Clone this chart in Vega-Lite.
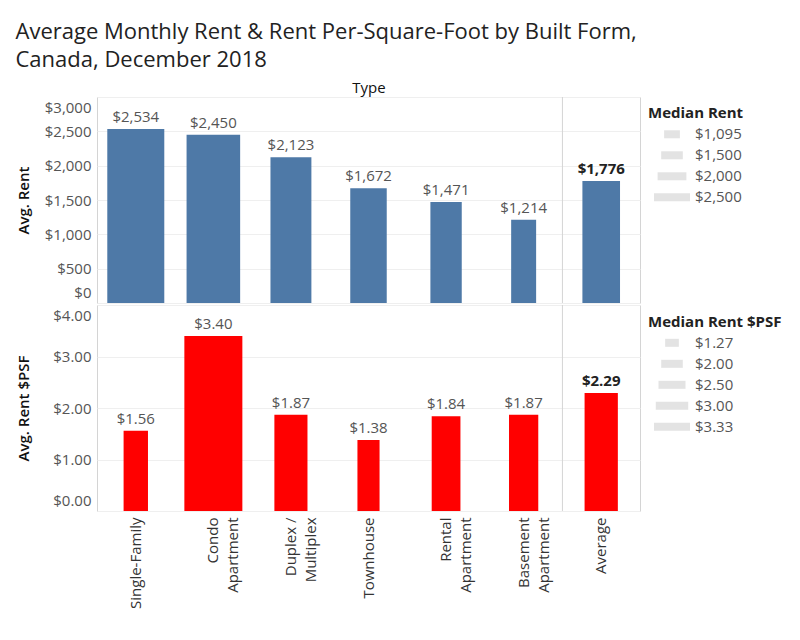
{
  "$schema": "https://vega.github.io/schema/vega-lite/v6.json",
  "padding": {"left": 15, "top": 20, "right": 2, "bottom": 5},
  "title": {
    "text": ["Average Monthly Rent & Rent Per-Square-Foot by Built Form,", "Canada, December 2018"],
    "anchor": "start", "frame": "bounds", "fontSize": 22, "fontWeight": "normal",
    "color": "#222", "lineHeight": 28, "offset": 8, "font": "Open Sans"
  },
  "datasets": {
    "main": [
      {"type": "Single-Family", "avg_rent": 2534, "median_rent": 2500, "avg_psf": 1.56, "median_psf": 1.40},
      {"type": "Condo Apartment", "avg_rent": 2450, "median_rent": 2350, "avg_psf": 3.40, "median_psf": 3.33},
      {"type": "Duplex / Multiplex", "avg_rent": 2123, "median_rent": 1795, "avg_psf": 1.87, "median_psf": 1.90},
      {"type": "Townhouse", "avg_rent": 1672, "median_rent": 1600, "avg_psf": 1.38, "median_psf": 1.27},
      {"type": "Rental Apartment", "avg_rent": 1471, "median_rent": 1375, "avg_psf": 1.84, "median_psf": 1.65},
      {"type": "Basement Apartment", "avg_rent": 1214, "median_rent": 1095, "avg_psf": 1.87, "median_psf": 1.68},
      {"type": "Average", "avg_rent": 1776, "median_rent": 1650, "avg_psf": 2.29, "median_psf": 1.91}
    ],
    "legendRent": [
      {"label": "$1,095", "value": 1095},
      {"label": "$1,500", "value": 1500},
      {"label": "$2,000", "value": 2000},
      {"label": "$2,500", "value": 2500}
    ],
    "legendPsf": [
      {"label": "$1.27", "value": 1.27},
      {"label": "$2.00", "value": 2.00},
      {"label": "$2.50", "value": 2.50},
      {"label": "$3.00", "value": 3.00},
      {"label": "$3.33", "value": 3.33}
    ]
  },
  "columns": 2,
  "spacing": {"row": 0, "column": 7},
  "resolve": {"scale": {"size": "independent", "x": "independent", "y": "independent"}},
  "concat": [
    {
      "width": 543, "height": 206,
      "data": {"name": "main"},
      "encoding": {
        "x": {"field": "type", "type": "nominal", "sort": null,
          "scale": {"paddingInner": 0, "paddingOuter": 0},
          "axis": {"orient": "top", "title": "Type", "labels": false, "ticks": false, "domain": false, "grid": false,
                   "titlePadding": 2, "titleFontWeight": "normal", "titleColor": "#111"}}
      },
      "layer": [
        {
          "mark": {"type": "bar", "color": "#4e79a7"},
          "encoding": {
            "y": {"field": "avg_rent", "type": "quantitative", "scale": {"domain": [0, 3000], "nice": false},
              "axis": {"title": "Avg. Rent", "values": [0, 500, 1000, 1500, 2000, 2500, 3000], "format": "$,d", "labelOverlap": false}},
            "size": {"field": "median_rent", "type": "quantitative", "scale": {"domain": [0, 2500], "range": [0, 57]}, "legend": null}
          }
        },
        {
          "transform": [{"filter": "datum.type != 'Average'"}],
          "mark": {"type": "text", "baseline": "bottom", "dy": -4, "fontSize": 15, "color": "#555"},
          "encoding": {
            "y": {"field": "avg_rent", "type": "quantitative", "scale": {"domain": [0, 3000], "nice": false},
              "axis": {"title": "Avg. Rent", "values": [0, 500, 1000, 1500, 2000, 2500, 3000], "format": "$,d", "labelOverlap": false}},
            "text": {"field": "avg_rent", "type": "quantitative", "format": "$,d"}
          }
        },
        {
          "transform": [{"filter": "datum.type == 'Average'"}],
          "mark": {"type": "text", "baseline": "bottom", "dy": -4, "fontSize": 15, "fontWeight": "bold", "color": "#222"},
          "encoding": {
            "y": {"field": "avg_rent", "type": "quantitative", "scale": {"domain": [0, 3000], "nice": false},
              "axis": {"title": "Avg. Rent", "values": [0, 500, 1000, 1500, 2000, 2500, 3000], "format": "$,d", "labelOverlap": false}},
            "text": {"field": "avg_rent", "type": "quantitative", "format": "$,d"}
          }
        },
        {
          "data": {"values": [{}]},
          "mark": {"type": "rule", "color": "#d4d4d4"},
          "encoding": {"x": {"datum": "Average", "bandPosition": 0}}
        }
      ]
    },
    {
      "width": 140, "height": {"step": 21},
      "view": {"stroke": null},
      "layer": [
        {
          "data": {"values": [{"t": "Median Rent"}]},
          "mark": {"type": "text", "align": "left", "baseline": "middle", "fontSize": 15, "fontWeight": "bold", "color": "#222"},
          "encoding": {
            "x": {"datum": 0, "type": "quantitative", "scale": {"domain": [0, 140], "nice": false, "zero": false}, "axis": null},
            "y": {"datum": "Median Rent", "type": "ordinal",
              "scale": {"domain": ["Median Rent", "$1,095", "$1,500", "$2,000", "$2,500"], "padding": 0.55}, "axis": null},
            "text": {"field": "t"}
          }
        },
        {
          "data": {"name": "legendRent"},
          "mark": {"type": "tick", "orient": "horizontal", "thickness": 8, "color": "#d7d7d7"},
          "encoding": {
            "x": {"datum": 24, "type": "quantitative"},
            "y": {"field": "label", "type": "ordinal"},
            "size": {"field": "value", "type": "quantitative", "scale": {"domain": [0, 2500], "range": [0, 36]}, "legend": null}
          }
        },
        {
          "data": {"name": "legendRent"},
          "mark": {"type": "text", "align": "left", "baseline": "middle", "fontSize": 15, "color": "#555"},
          "encoding": {
            "x": {"datum": 47, "type": "quantitative"},
            "y": {"field": "label", "type": "ordinal"},
            "text": {"field": "label"}
          }
        }
      ]
    },
    {
      "width": 543, "height": 206,
      "data": {"name": "main"},
      "encoding": {
        "x": {"field": "type", "type": "nominal", "sort": null,
          "scale": {"paddingInner": 0, "paddingOuter": 0},
          "axis": {"orient": "bottom", "title": null, "labelAngle": -90, "labelColor": "#333", "grid": false,
                   "labelLineHeight": 20, "labelPadding": 6,
                   "labelExpr": "split(replace(replace(datum.label, '/ ', '/|'), ' Apartment', '|Apartment'), '|')"}}
      },
      "layer": [
        {
          "mark": {"type": "bar", "color": "#ff0000"},
          "encoding": {
            "y": {"field": "avg_psf", "type": "quantitative", "scale": {"domain": [0, 4], "nice": false},
              "axis": {"title": "Avg. Rent $PSF", "values": [0, 1, 2, 3, 4], "format": "$.2f", "labelOverlap": false}},
            "size": {"field": "median_psf", "type": "quantitative", "scale": {"domain": [0, 3.33], "range": [0, 58]}, "legend": null}
          }
        },
        {
          "transform": [{"filter": "datum.type != 'Average'"}],
          "mark": {"type": "text", "baseline": "bottom", "dy": -4, "fontSize": 15, "color": "#555"},
          "encoding": {
            "y": {"field": "avg_psf", "type": "quantitative", "scale": {"domain": [0, 4], "nice": false},
              "axis": {"title": "Avg. Rent $PSF", "values": [0, 1, 2, 3, 4], "format": "$.2f", "labelOverlap": false}},
            "text": {"field": "avg_psf", "type": "quantitative", "format": "$.2f"}
          }
        },
        {
          "transform": [{"filter": "datum.type == 'Average'"}],
          "mark": {"type": "text", "baseline": "bottom", "dy": -4, "fontSize": 15, "fontWeight": "bold", "color": "#222"},
          "encoding": {
            "y": {"field": "avg_psf", "type": "quantitative", "scale": {"domain": [0, 4], "nice": false},
              "axis": {"title": "Avg. Rent $PSF", "values": [0, 1, 2, 3, 4], "format": "$.2f", "labelOverlap": false}},
            "text": {"field": "avg_psf", "type": "quantitative", "format": "$.2f"}
          }
        },
        {
          "data": {"values": [{}]},
          "mark": {"type": "rule", "color": "#d4d4d4"},
          "encoding": {"x": {"datum": "Average", "bandPosition": 0}}
        }
      ]
    },
    {
      "width": 140, "height": {"step": 21},
      "view": {"stroke": null},
      "layer": [
        {
          "data": {"values": [{"t": "Median Rent $PSF"}]},
          "mark": {"type": "text", "align": "left", "baseline": "middle", "fontSize": 15, "fontWeight": "bold", "color": "#222"},
          "encoding": {
            "x": {"datum": 0, "type": "quantitative", "scale": {"domain": [0, 140], "nice": false, "zero": false}, "axis": null},
            "y": {"datum": "Median Rent $PSF", "type": "ordinal",
              "scale": {"domain": ["Median Rent $PSF", "$1.27", "$2.00", "$2.50", "$3.00", "$3.33"], "padding": 0.6}, "axis": null},
            "text": {"field": "t"}
          }
        },
        {
          "data": {"name": "legendPsf"},
          "mark": {"type": "tick", "orient": "horizontal", "thickness": 8, "color": "#d7d7d7"},
          "encoding": {
            "x": {"datum": 24, "type": "quantitative"},
            "y": {"field": "label", "type": "ordinal"},
            "size": {"field": "value", "type": "quantitative", "scale": {"domain": [0, 3.33], "range": [0, 36]}, "legend": null}
          }
        },
        {
          "data": {"name": "legendPsf"},
          "mark": {"type": "text", "align": "left", "baseline": "middle", "fontSize": 15, "color": "#555"},
          "encoding": {
            "x": {"datum": 47, "type": "quantitative"},
            "y": {"field": "label", "type": "ordinal"},
            "text": {"field": "label"}
          }
        }
      ]
    }
  ],
  "config": {
    "font": "Open Sans",
    "view": {"stroke": "#d4d4d4"},
    "axis": {
      "labelFont": "Open Sans", "titleFont": "Open Sans",
      "labelFontSize": 15, "labelColor": "#555",
      "titleFontSize": 15, "titleColor": "#111", "titleFontWeight": 600,
      "ticks": false, "domain": false, "gridColor": "#efefef", "labelPadding": 6
    },
    "axisY": {"labelFlush": true, "labelFlushOffset": -3, "labelOverlap": false, "titlePadding": 6, "minExtent": 60, "maxExtent": 60}
  }
}
